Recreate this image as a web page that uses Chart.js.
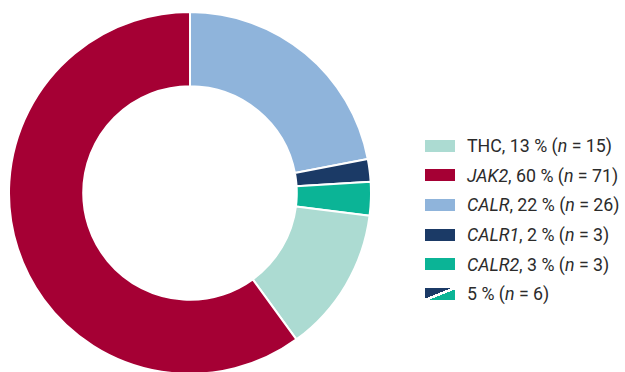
<!DOCTYPE html>
<html>
<head>
<meta charset="utf-8">
<script src="https://cdn.jsdelivr.net/npm/chart.js@4.4.1/dist/chart.umd.min.js"></script>
<style>
  body { margin: 0; background: #fff; width: 625px; height: 372px; overflow: hidden; position: relative; font-family: Roboto, "Noto Sans", sans-serif; }
  #wrap { position: absolute; left: 8px; top: 11px; width: 364px; height: 364px; }
  #legend { position: absolute; left: 425px; top: 131px; list-style: none; margin: 0; padding: 0; }
  #legend li { height: 29.6px; display: flex; align-items: center; font-size: 17.8px; color: #2b2b2b; white-space: nowrap; }
  #legend .sw { width: 30px; height: 12px; margin-right: 12px; flex: none; }
</style>
</head>
<body>
<div id="wrap"><canvas id="donut"></canvas></div>
<ul id="legend"></ul>
<script>
// legend order
const labels = ['THC', 'JAK2', 'CALR', 'CALR1', 'CALR2'];
const italicName = [false, true, true, true, true];
const percents = [13, 60, 22, 2, 3];
const counts = [15, 71, 26, 3, 3];
const colors = ['#acdbd2', '#a50034', '#8fb4db', '#1b3a66', '#0bb496'];

// ring goes clockwise from 12 o'clock: CALR, CALR1, CALR2, THC, JAK2
const sliceOrder = [2, 3, 4, 0, 1];

// combined CALR1 + CALR2 entry
const combinedPercent = 5;
const combinedCount = 6;

new Chart(document.getElementById('donut'), {
  type: 'doughnut',
  data: {
    labels: sliceOrder.map(i => labels[i]),
    datasets: [{
      data: sliceOrder.map(i => percents[i]),
      backgroundColor: sliceOrder.map(i => colors[i]),
      borderColor: '#ffffff',
      borderWidth: 2
    }]
  },
  options: {
    responsive: true,
    maintainAspectRatio: false,
    animation: false,
    cutout: '59%',
    layout: { padding: 0 },
    plugins: {
      legend: { display: false },
      tooltip: { enabled: false }
    }
  }
});

const legend = document.getElementById('legend');
labels.forEach((name, i) => {
  const li = document.createElement('li');
  const nameHtml = italicName[i] ? `<i>${name}</i>` : name;
  li.innerHTML = `<span class="sw" style="background:${colors[i]}"></span>` +
    `<span>${nameHtml}, ${percents[i]} % (<i>n</i> = ${counts[i]})</span>`;
  legend.appendChild(li);
});

const extra = document.createElement('li');
extra.innerHTML = `<span class="sw" style="background:linear-gradient(to top left, ${colors[4]} 0 44%, #fff 44% 56%, ${colors[3]} 56%)"></span>` +
  `<span>${combinedPercent} % (<i>n</i> = ${combinedCount})</span>`;
legend.appendChild(extra);
</script>
</body>
</html>
